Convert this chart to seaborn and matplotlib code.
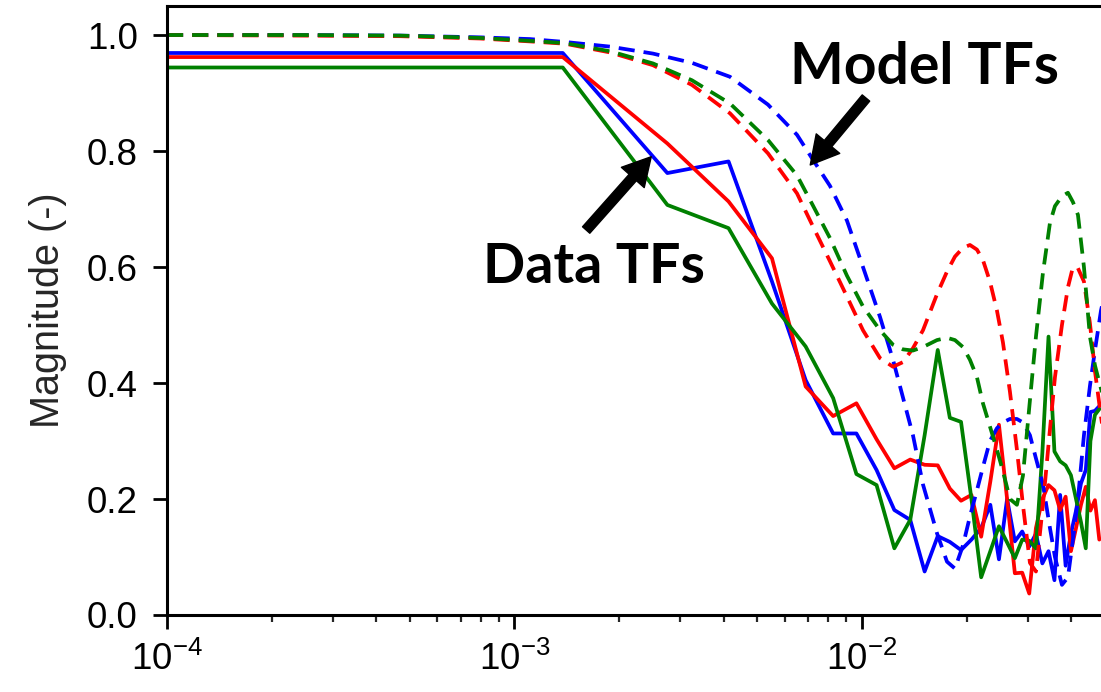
import matplotlib
matplotlib.use("Agg")
import matplotlib.pyplot as plt
import seaborn as sns
import pandas as pd

# ---------------- data ----------------
data_freq = [1.0e-4, 0.001377, 0.002754, 0.004131, 0.005508, 0.006885, 0.008262,
             0.009639, 0.011016, 0.012393, 0.01377, 0.015147, 0.016524, 0.017901,
             0.019278, 0.020655, 0.022032, 0.023409, 0.024786, 0.026163, 0.02754,
             0.028917, 0.030294, 0.031671, 0.033048, 0.034425, 0.035802, 0.037179,
             0.038556, 0.039933, 0.04131, 0.042687, 0.044064, 0.045441, 0.046818,
             0.048195]
blue_data = [0.969, 0.969, 0.762, 0.782, 0.575, 0.405, 0.313, 0.313, 0.250, 0.181,
             0.164, 0.075, 0.136, 0.126, 0.112, 0.130, 0.150, 0.190, 0.096, 0.200,
             0.127, 0.144, 0.118, 0.140, 0.089, 0.110, 0.060, 0.207, 0.085, 0.140,
             0.180, 0.227, 0.250, 0.350, 0.352, 0.360]
red_data = [0.962, 0.962, 0.813, 0.713, 0.615, 0.394, 0.343, 0.365, 0.303, 0.253,
            0.268, 0.259, 0.258, 0.218, 0.197, 0.207, 0.135, 0.230, 0.328, 0.200,
            0.072, 0.073, 0.037, 0.150, 0.200, 0.224, 0.215, 0.181, 0.204, 0.110,
            0.150, 0.190, 0.221, 0.180, 0.198, 0.130]
green_data = [0.944, 0.944, 0.707, 0.667, 0.537, 0.463, 0.374, 0.243, 0.224, 0.115,
              0.164, 0.310, 0.457, 0.340, 0.333, 0.200, 0.065, 0.110, 0.153, 0.125,
              0.098, 0.130, 0.128, 0.115, 0.280, 0.480, 0.282, 0.265, 0.258, 0.241,
              0.200, 0.160, 0.115, 0.300, 0.345, 0.355]

model_freq = [1.000e-4, 2.414e-4, 4.684e-4, 7.957e-4, 1.108e-3, 1.398e-3, 1.883e-3,
              2.503e-3, 3.241e-3, 4.170e-3, 5.364e-3, 6.501e-3, 7.226e-3, 8.088e-3,
              9.053e-3, 1.0067e-2, 1.1268e-2, 1.2284e-2, 1.3122e-2, 1.4020e-2,
              1.4983e-2, 1.6439e-2, 1.7564e-2, 1.8519e-2, 1.9526e-2, 2.0452e-2,
              2.1423e-2, 2.2291e-2, 2.3350e-2, 2.4458e-2, 2.5450e-2, 2.6658e-2,
              2.7923e-2, 2.9055e-2, 3.0434e-2, 3.1674e-2, 3.3177e-2, 3.4752e-2,
              3.5923e-2, 3.7627e-2, 3.9152e-2, 4.0473e-2, 4.1836e-2, 4.3533e-2,
              4.5298e-2, 4.6841e-2, 4.8741e-2, 5.105e-2]
blue_model = [1.000, 1.000, 0.999, 0.996, 0.993, 0.988, 0.980, 0.968, 0.952, 0.928,
              0.880, 0.828, 0.785, 0.740, 0.680, 0.600, 0.514, 0.440, 0.375, 0.310,
              0.225, 0.141, 0.092, 0.080, 0.120, 0.170, 0.215, 0.255, 0.300, 0.322,
              0.332, 0.338, 0.338, 0.332, 0.310, 0.270, 0.225, 0.150, 0.100, 0.052,
              0.065, 0.130, 0.200, 0.310, 0.395, 0.457, 0.525, 0.580]
green_model = [1.000, 1.000, 0.999, 0.995, 0.990, 0.986, 0.972, 0.951, 0.922, 0.882,
               0.819, 0.758, 0.706, 0.650, 0.585, 0.532, 0.491, 0.466, 0.458, 0.456,
               0.462, 0.474, 0.478, 0.474, 0.462, 0.440, 0.410, 0.365, 0.325, 0.285,
               0.248, 0.200, 0.190, 0.240, 0.370, 0.480, 0.590, 0.676, 0.705, 0.722,
               0.728, 0.712, 0.690, 0.600, 0.480, 0.430, 0.390, 0.350]
red_model = [1.000, 0.999, 0.998, 0.994, 0.989, 0.985, 0.970, 0.948, 0.914, 0.865,
             0.796, 0.727, 0.670, 0.610, 0.549, 0.491, 0.443, 0.428, 0.436, 0.460,
             0.491, 0.553, 0.592, 0.618, 0.633, 0.638, 0.630, 0.612, 0.575, 0.525,
             0.470, 0.385, 0.285, 0.190, 0.090, 0.075, 0.190, 0.320, 0.410, 0.500,
             0.565, 0.600, 0.598, 0.575, 0.503, 0.420, 0.342, 0.260]

series_colors = ["blue", "red", "green"]
y_ticks = [0.0, 0.2, 0.4, 0.6, 0.8, 1.0]
y_label = "Magnitude (-)"
model_text = "Model TFs"
data_text = "Data TFs"

# ---------------- style ----------------
sns.set_theme(style="ticks")
plt.rcParams["font.family"] = ["Liberation Sans", "DejaVu Sans"]
plt.rcParams["mathtext.fontset"] = "custom"
plt.rcParams["mathtext.rm"] = "Liberation Sans"
plt.rcParams["mathtext.it"] = "Liberation Sans:italic"
plt.rcParams["mathtext.bf"] = "Liberation Sans:bold"
plt.rcParams["axes.unicode_minus"] = True

W, H = 1101, 692
fig = plt.figure(figsize=(W / 100, H / 100), dpi=100)
fig.patch.set_facecolor("white")
ax = fig.add_axes([167 / W, 77 / H, (1104 - 167) / W, 609.5 / H])
ax.set_facecolor("white")

lw = 2.7
data_df = pd.DataFrame({"f": data_freq, "blue": blue_data, "red": red_data,
                        "green": green_data})
model_df = pd.DataFrame({"f": model_freq, "blue": blue_model, "red": red_model,
                         "green": green_model})

for c in series_colors:
    sns.lineplot(data=data_df, x="f", y=c, color=c, lw=lw, ax=ax,
                 estimator=None, sort=False)
for c in series_colors:
    sns.lineplot(data=model_df, x="f", y=c, color=c, lw=lw, ax=ax,
                 estimator=None, sort=False)
    ax.lines[-1].set_dashes((4.3, 2.4))

ax.set_xscale("log")
ax.set_xlim(1e-4, 4.972e-2)
ax.set_ylim(0, 1.0509)
ax.set_yticks(y_ticks)
ax.set_yticklabels([f"{t:.1f}" for t in y_ticks])
ax.set_xlabel("")
ax.set_ylabel(y_label, fontsize=28.5, labelpad=14)

for s in ax.spines.values():
    s.set_linewidth(2.2)
    s.set_color("black")
ax.tick_params(axis="both", which="major", direction="out", length=10, width=2.0,
               labelsize=26.5, colors="black")
ax.tick_params(axis="y", which="major", pad=11)
ax.tick_params(axis="x", which="major", pad=9)
ax.tick_params(axis="x", which="minor", direction="out", length=5, width=1.6)
ax.tick_params(axis="y", which="minor", left=False)

# annotations
ax.text(6.207e-3, 0.9164, model_text, fontfamily="Lato", fontweight="bold",
        fontsize=41, ha="left", va="baseline", color="black")
ax.text(8.117e-4, 0.5719, data_text, fontfamily="Lato", fontweight="bold",
        fontsize=40, ha="left", va="baseline", color="black")
arrow_kw = dict(facecolor="black", edgecolor="black", width=7, headwidth=22,
                headlength=20, shrink=0)
ax.annotate("", xy=(7.098e-3, 0.7759), xytext=(1.0268e-2, 0.8914),
            arrowprops=arrow_kw)
ax.annotate("", xy=(2.475e-3, 0.7902), xytext=(1.608e-3, 0.6638),
            arrowprops=arrow_kw)

fig.savefig("out.png", dpi=100)
